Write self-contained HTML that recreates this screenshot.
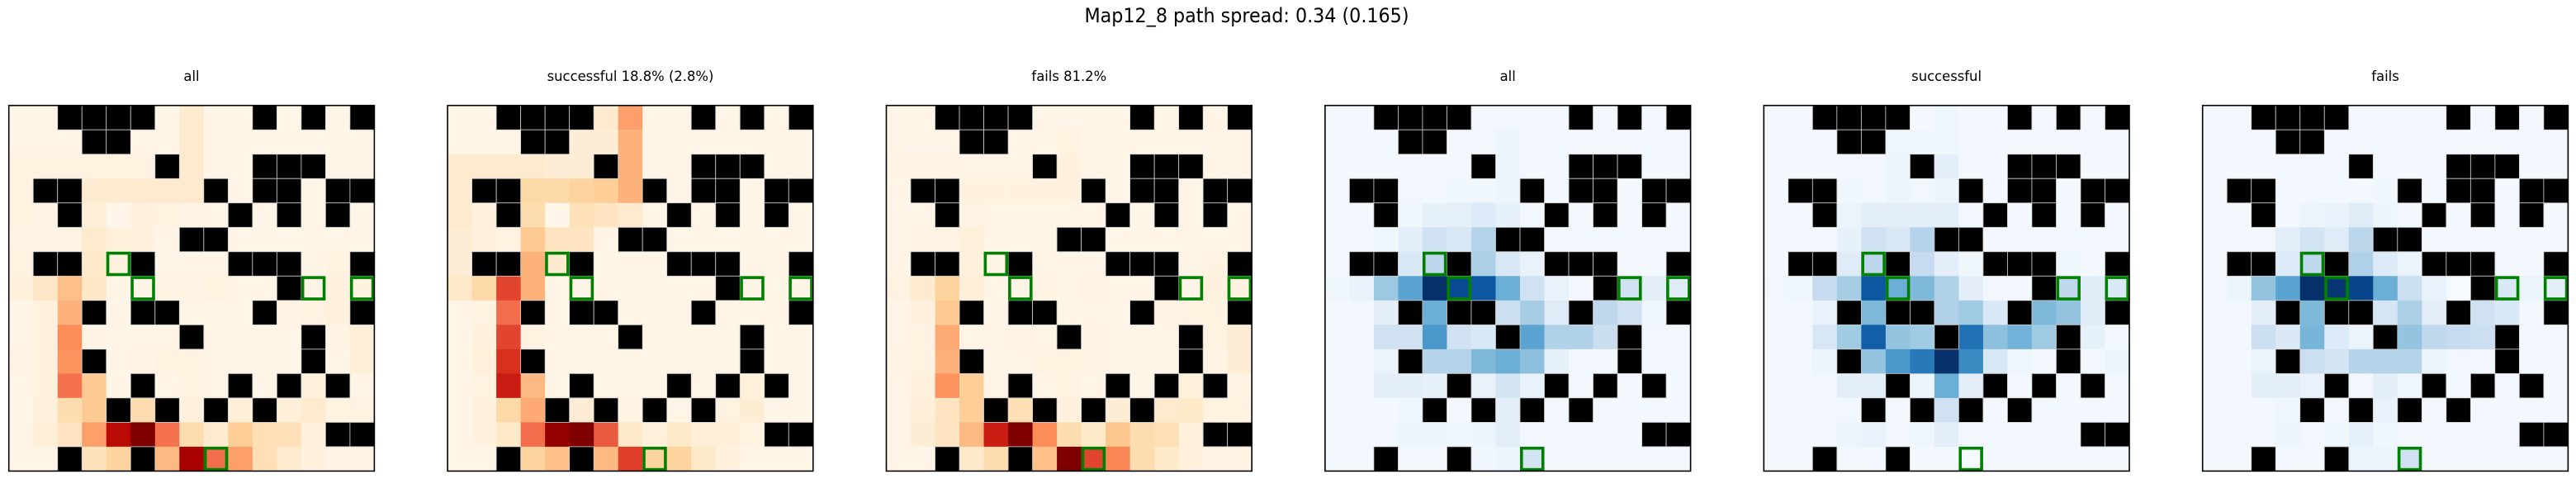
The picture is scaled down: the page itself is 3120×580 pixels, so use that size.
<!DOCTYPE html>
<html>
<head>
<meta charset="utf-8">
<style>
html,body{margin:0;padding:0;background:#fff;}
svg{display:block;}
text{font-family:"DejaVu Sans","Liberation Sans",sans-serif;fill:#000;}
</style>
</head>
<body>
<svg id="fig" width="3120" height="580" viewBox="0 0 3120 580" xmlns="http://www.w3.org/2000/svg">
<rect x="0" y="0" width="3120" height="580" fill="#fff"/>
<text x="1510" y="27" font-size="24" text-anchor="middle" textLength="393" lengthAdjust="spacingAndGlyphs">Map12_8 path spread: 0.34 (0.165)</text>
</svg>
<script>
const panelTitles = ["all", "successful 18.8% (2.8%)", "fails 81.2%", "all", "successful", "fails"];
const panelCmaps = ["OrRd","OrRd","OrRd","Blues","Blues","Blues"];
const obstacles = [[0,2],[0,3],[0,4],[0,5],[0,10],[0,12],[0,14],[1,3],[1,4],[2,6],[2,10],[2,11],[2,12],
[3,1],[3,2],[3,8],[3,10],[3,11],[3,13],[3,14],[4,2],[4,9],[4,11],[4,13],[5,7],[5,8],
[6,1],[6,2],[6,5],[6,9],[6,10],[6,11],[6,14],[7,11],[8,3],[8,5],[8,6],[8,10],[8,14],
[9,7],[9,12],[10,3],[10,12],[11,5],[11,9],[11,11],[11,13],[12,4],[12,6],[12,8],[12,10],[13,13],[13,14],[14,2],[14,5]];
const goals = [[6,4],[7,5],[7,12],[7,14],[14,8]];
const valsAllOr = [
[.02,.02,0,0,0,0,.02,.1,.02,.02,0,.02,0,.02,0],
[.02,.02,.02,0,0,.02,.02,.1,.02,.02,.02,.02,.02,.02,.02],
[.04,.04,.04,.04,.04,.04,0,.1,.02,.02,0,0,0,.02,.02],
[.04,0,0,.09,.09,.1,.1,.1,0,.02,0,0,.02,0,0],
[.04,.03,0,.07,.01,.05,.04,.03,.02,0,.02,0,.02,0,.02],
[.03,.03,.03,.1,.06,.05,.02,0,0,.02,.02,.02,.02,.02,.02],
[.04,0,0,.12,.05,0,.02,.02,.02,0,0,0,.02,.04,0],
[.06,.13,.35,.13,.02,.02,.03,.03,.04,.02,.02,0,.02,.05,.04],
[.02,.05,.4,0,.02,0,0,.02,.02,.02,0,.03,.04,.05,0],
[.02,.05,.5,.03,.02,.02,.02,0,.02,.02,.02,.02,0,.03,.07],
[.03,.05,.48,0,.02,.03,.04,.04,.02,.02,.02,.02,0,.02,.07],
[.02,.05,.58,.3,.02,0,.02,.04,.02,0,.02,0,.06,0,.02],
[.02,.06,.2,.3,0,.2,0,.05,0,.07,0,.07,.1,.04,.04],
[.02,.07,.15,.45,.85,1,.58,.2,.1,.28,.18,.17,.05,0,0],
[.02,.02,0,.16,.25,0,.38,.9,.6,.45,.18,.1,.05,.03,.03]];
const valsSuccOr = [
[.02,.02,0,0,0,0,.1,.45,.02,.02,0,.02,0,.02,0],
[.02,.02,.02,0,0,.08,.08,.4,.02,.02,.02,.02,.02,.02,.02],
[.1,.1,.1,.1,.08,.08,0,.4,.02,.02,0,0,0,.02,.02],
[.1,0,0,.22,.22,.25,.28,.4,0,.02,0,0,.02,0,0],
[.1,.05,0,.2,.01,.17,.15,.1,.02,0,.02,0,.02,0,.02],
[.08,.05,.04,.3,.15,.15,.02,0,0,.02,.02,.02,.02,.02,.02],
[.08,0,0,.4,.1,0,.02,.02,.02,0,0,0,.02,.02,0],
[.12,.22,.7,.4,.02,.02,.02,.02,.02,.02,.02,0,.02,.02,.02],
[.02,.04,.6,0,.02,0,0,.02,.02,.02,0,.02,.02,.02,0],
[.02,.05,.7,.04,.02,.02,.02,0,.02,.02,.02,.02,0,.02,.02],
[.02,.06,.75,0,.02,.02,.02,.02,.02,.02,.02,.02,0,.02,.02],
[.02,.04,.8,.38,.02,0,.02,.02,.02,0,.02,0,.06,0,.02],
[.02,.05,.22,.42,0,.08,0,.03,0,.02,0,.04,.08,.02,.02],
[.02,.05,.12,.6,.95,1,.65,.12,.06,.12,.07,.07,.04,0,0],
[.02,.02,0,.25,.35,0,.38,.72,.25,.25,.12,.05,.02,.02,.02]];
const valsFailOr = [
[.02,.02,0,0,0,0,.02,.02,.02,.02,0,.02,0,.02,0],
[.02,.02,.02,0,0,.02,.02,.04,.02,.02,.02,.02,.02,.02,.02],
[.03,.03,.03,.02,.02,.02,0,.05,.02,.02,0,0,0,.02,.02],
[.02,0,0,.05,.05,.05,.05,.05,0,.02,0,0,.02,0,0],
[.02,.02,0,.03,.02,.02,.02,.02,.02,0,.02,0,.02,0,.02],
[.02,.03,.03,.06,.02,.02,.02,0,0,.02,.02,.02,.02,.02,.02],
[.02,0,0,.06,.02,0,.02,.02,.02,0,0,0,.02,.04,0],
[.04,.1,.25,.07,.02,.02,.03,.02,.03,.02,.02,0,.02,.05,.04],
[.02,.05,.3,0,.02,0,0,.02,.02,.02,0,.03,.04,.04,0],
[.02,.04,.42,.02,.02,.03,.02,0,.03,.02,.02,.02,0,.04,.08],
[.03,.04,.4,0,.02,.02,.04,.04,.03,.02,.02,.02,0,.03,.08],
[.02,.05,.48,.28,.02,0,.02,.04,.02,0,.02,0,.06,0,.03],
[.02,.07,.15,.28,0,.18,0,.05,0,.08,0,.1,.12,.04,.04],
[.02,.08,.15,.38,.8,1,.5,.2,.12,.32,.2,.18,.06,0,0],
[.02,.02,0,.12,.2,0,.35,1,.7,.52,.2,.12,.05,.03,.03]];
const valsAllBl = [
[.02,.02,0,0,0,0,.02,.03,.02,.02,0,.02,0,.02,0],
[.02,.02,.02,0,0,.03,.03,.05,.02,.02,.02,.02,.02,.02,.02],
[.02,.02,.02,.02,.02,.03,0,.05,.02,.02,0,0,0,.02,.02],
[.02,0,0,.03,.03,.04,.04,.05,0,.02,0,0,.02,0,0],
[.02,.02,0,.04,.08,.09,.13,.08,.02,0,.02,0,.02,0,.02],
[.02,.02,.04,.1,.2,.15,.3,0,0,.02,.02,.02,.02,.02,.02],
[.02,0,0,.15,.28,0,.33,.15,.07,0,0,0,.03,.02,0],
[.04,.07,.38,.55,1,.9,.85,.5,.2,.07,.02,0,.2,.1,.12],
[.02,.03,.1,0,.5,0,0,.22,.35,.12,0,.27,.2,.04,0],
[.02,.02,.2,.2,.6,.2,.15,0,.55,.32,.32,.23,0,.03,.02],
[.02,.02,.06,0,.3,.3,.45,.5,.42,.08,.03,.02,0,.02,.02],
[.02,.02,.1,.1,.08,0,.07,.18,.07,0,.02,0,.02,0,.02],
[.02,.02,.02,.04,0,.02,0,.1,0,.02,0,.02,.02,.02,.02],
[.02,.02,.03,.05,.05,.04,.05,.1,.03,.02,.02,.02,.02,0,0],
[.02,.02,0,.02,.02,0,.04,.05,.18,.02,.02,.02,.02,.02,.02]];
const valsSuccBl = [
[.02,.02,0,0,0,0,.02,.04,.02,.02,0,.02,0,.02,0],
[.02,.02,.02,0,0,.04,.04,.04,.02,.02,.02,.02,.02,.02,.02],
[.02,.02,.02,.03,.02,.05,0,.1,.02,.02,0,0,0,.02,.02],
[.02,0,0,.04,.03,.06,.03,.05,0,.02,0,0,.02,0,0],
[.02,.02,0,.06,.1,.1,.1,.1,.02,0,.02,0,.02,0,.02],
[.02,.02,.02,.08,.2,.15,.3,0,0,.02,.02,.03,.03,.02,.02],
[.02,0,0,.12,.28,0,.25,.1,.04,0,0,0,.04,.02,0],
[.03,.04,.25,.35,.85,.5,.45,.32,.1,.03,.02,0,.27,.12,.15],
[.02,.02,.07,0,.45,0,0,.32,.37,.15,0,.45,.4,.12,0],
[.02,.03,.16,.37,.82,.4,.37,0,.75,.42,.48,.37,0,.08,.02],
[.02,.02,.05,0,.4,.6,.72,1,.65,.15,.04,.02,0,.02,.05],
[.02,.02,.03,.1,.1,0,.06,.5,.1,0,.02,0,.02,0,.02],
[.02,.02,.02,.03,0,.02,0,.2,0,.02,0,.02,.02,.02,.02],
[.02,.02,.02,.06,.07,.03,.04,.1,.02,.02,.02,.02,.02,0,0],
[.02,.02,0,.02,.02,0,.02,.02,.01,.02,.02,.02,.02,.02,.02]];
const valsFailBl = [
[.02,.02,0,0,0,0,.02,.02,.02,.02,0,.02,0,.02,0],
[.02,.02,.02,0,0,.02,.02,.03,.02,.02,.02,.02,.02,.02,.02],
[.02,.02,.02,.02,.02,.02,0,.02,.02,.02,0,0,0,.02,.02],
[.02,0,0,.02,.02,.02,.02,.04,0,.02,0,0,.02,0,0],
[.02,.02,0,.03,.05,.07,.12,.05,.02,0,.02,0,.02,0,.02],
[.02,.02,.03,.1,.18,.12,.28,0,0,.02,.02,.02,.02,.02,.02],
[.02,0,0,.13,.27,0,.32,.13,.06,0,0,0,.03,.02,0],
[.03,.06,.4,.55,1,.98,.92,.5,.22,.07,.01,0,.15,.06,.1],
[.02,.03,.1,0,.45,0,0,.17,.33,.1,0,.2,.15,.02,0],
[.02,.02,.22,.14,.47,.13,.06,0,.4,.27,.25,.22,0,.02,.02],
[.02,.02,.06,0,.22,.18,.3,.3,.3,.06,.03,.02,0,.02,.02],
[.02,.02,.1,.1,.07,0,.03,.1,.04,0,.02,0,.02,0,.02],
[.02,.02,.02,.04,0,.02,0,.07,0,.02,0,.02,.02,.02,.02],
[.02,.02,.03,.05,.03,.04,.09,.04,.03,.02,.02,.02,.02,0,0],
[.02,.02,0,.02,.02,0,.05,.05,.2,.02,.02,.02,.02,.02,.02]];
const panelValues = [valsAllOr, valsSuccOr, valsFailOr, valsAllBl, valsSuccBl, valsFailBl];

const CMAPS = {
  OrRd: ["#fff7ec","#fee8c8","#fdd49e","#fdbb84","#fc8d59","#ef6548","#d7301f","#b30000","#7f0000"],
  Blues: ["#f7fbff","#deebf7","#c6dbef","#9ecae1","#6baed6","#4292c6","#2171b5","#08519c","#08306b"]
};
function hex(h){return [parseInt(h.substr(1,2),16),parseInt(h.substr(3,2),16),parseInt(h.substr(5,2),16)];}
function cmap(name, v){
  const s = CMAPS[name]; v = Math.max(0, Math.min(1, v));
  const p = v*(s.length-1); const i = Math.min(s.length-2, Math.floor(p)); const t = p-i;
  const a = hex(s[i]), b = hex(s[i+1]);
  return "rgb("+a.map((x,k)=>Math.round(x+(b[k]-x)*t)).join(",")+")";
}
const NS = "http://www.w3.org/2000/svg";
const svg = document.getElementById("fig");
const N = 15, PW = 442.7, CELL = PW/N, TOP = 127.7, LEFT0 = 10.7, STEP = 531.4;
function xScale(p, c){ return LEFT0 + p*STEP + c*CELL; }
function yScale(r){ return TOP + r*CELL; }
function mk(tag, attrs){ const e = document.createElementNS(NS, tag); for (const k in attrs) e.setAttribute(k, attrs[k]); return e; }
const obsSet = new Set(obstacles.map(o=>o[0]+","+o[1]));

for (let p = 0; p < 6; p++) {
  const g = mk("g", {});
  
  
  svg.appendChild(g);
  const t = mk("text", {x: (xScale(p,0)+PW/2).toFixed(1), y: 98, "font-size": 16.4, "text-anchor": "middle"});
  
  
  t.textContent = panelTitles[p];
  g.appendChild(t);
  const vals = panelValues[p];
  for (let r = 0; r < N; r++) for (let c = 0; c < N; c++) {
    if (obsSet.has(r+","+c)) continue;
    const rc = mk("rect", {x: xScale(p,c).toFixed(2), y: yScale(r).toFixed(2), width: (CELL+0.4).toFixed(2), height: (CELL+0.4).toFixed(2), fill: cmap(panelCmaps[p], vals[r][c])});
    
    
    g.appendChild(rc);
  }
  for (const o of obstacles) {
    const rc = mk("rect", {x: xScale(p,o[1]).toFixed(2), y: yScale(o[0]).toFixed(2), width: CELL.toFixed(2), height: CELL.toFixed(2), fill: "#000", stroke: "#cfcfcf", "stroke-width": 0.8});
    
    
    g.appendChild(rc);
  }
  for (const q of goals) {
    const rc = mk("rect", {x: (xScale(p,q[1])+1.8).toFixed(2), y: (yScale(q[0])+1.8).toFixed(2), width: (CELL-3.6).toFixed(2), height: (CELL-3.6).toFixed(2), fill: "none", stroke: "#008000", "stroke-width": 3.6});
    
    
    g.appendChild(rc);
  }
  const fr = mk("rect", {x: xScale(p,0).toFixed(2), y: TOP, width: PW, height: PW, fill: "none", stroke: "#000", "stroke-width": 1.6});
  
  
  g.appendChild(fr);
}
</script>
</body>
</html>
